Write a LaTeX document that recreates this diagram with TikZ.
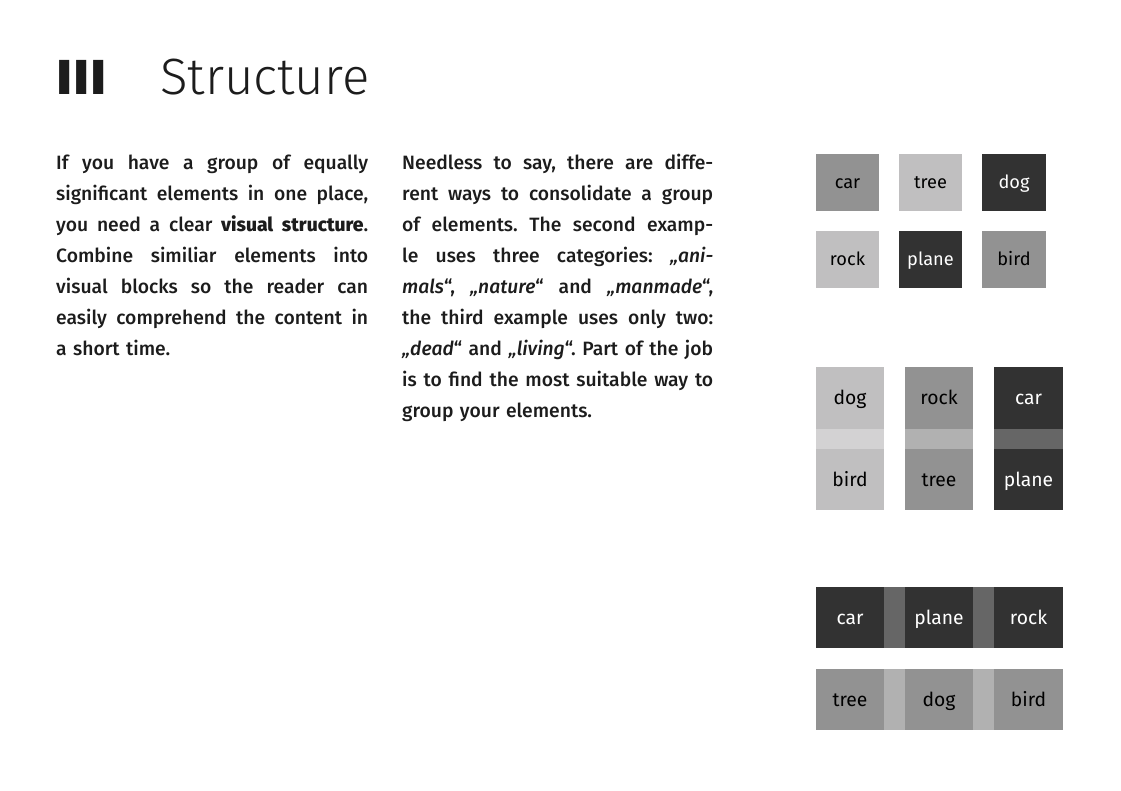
\documentclass[tikz,border=0pt]{standalone}
\usepackage{fontspec}
\setmainfont{Fira Sans}[UprightFont=* Medium, ItalicFont=* Medium Italic, BoldFont=* ExtraBold]
\newfontfamily\titlefont{Fira Sans Light}
\newfontfamily\labelfont{Fira Sans}
\newfontfamily\heavyfont{Fira Sans Black}
\definecolor{cDark}{HTML}{323232}
\definecolor{cMid}{HTML}{929292}
\definecolor{cLight}{HTML}{C0BFC0}
\definecolor{bLight}{HTML}{D3D2D3}
\definecolor{bMid}{HTML}{B1B1B1}
\definecolor{bDark}{HTML}{666666}
\definecolor{ink}{HTML}{1C1C1C}
\newcommand\jlA[1]{\hbox to312pt{\spaceskip=0.24em plus 20em minus 0.06em\relax #1}}
\newcommand\jlB[1]{\hbox to311pt{\spaceskip=0.24em plus 20em minus 0.06em\relax #1}}
\frenchspacing
\begin{document}
\begin{tikzpicture}[x=1pt,y=-1pt,
  box/.style={inner sep=0pt, outer sep=0pt, text height=13pt, text depth=0pt},
  boxA/.style={box, minimum width=63.5pt, minimum height=57pt, font=\labelfont\fontsize{18.2}{20}\selectfont},
  boxB/.style={box, minimum width=68.5pt, minimum height=61.5pt, font=\labelfont\fontsize{19.3}{20}\selectfont},
  dk/.style={fill=cDark, text=white},
  md/.style={fill=cMid, text=black},
  lt/.style={fill=cLight, text=black},
  para/.style={anchor=base west, inner sep=0pt, text=ink, font=\fontsize{19.3}{31}\selectfont}
]
\useasboundingbox[fill=white] (0,0) rectangle (1121,791);

% title
\node[anchor=base west, inner sep=0pt, text=ink, font=\heavyfont\fontsize{49}{50}\selectfont] (num) at (57,94.5) {I\kern3pt I\kern3pt I};
\node[anchor=base west, inner sep=0pt, text=ink, font=\titlefont\fontsize{51}{55}\selectfont] (title) at (160,94.5) {Structure};

% paragraphs
\node[para, text width=312pt] (left) at (56,170) {%
\jlA{If you have a group of equally}\par
\jlA{significant elements in one place,}\par
\jlA{you need a clear \textbf{visual structure}.}\par
\jlA{Combine similiar elements into}\par
\jlA{visual blocks so the reader can}\par
\jlA{easily comprehend the content in}\par
a short time.};

\node[para, text width=311pt] (right) at (402,170) {%
\jlB{Needless to say, there are diffe-}\par
\jlB{rent ways to consolidate a group}\par
\jlB{of elements. The second examp-}\par
\jlB{le uses three categories: \textit{„ani-}}\par
\jlB{\textit{mals}“, \textit{„nature}“ and \textit{„manmade}“,}\par
\jlB{the third example uses only two:}\par
\jlB{\textit{„dead}“ and \textit{„living}“. Part of the job}\par
\jlB{is to find the most suitable way to}\par
group your elements.};

% group 1
\node[boxA, md] (a1) at (847.5,182.5) {car};
\node[boxA, lt] (a2) at (930.5,182.5) {tree};
\node[boxA, dk] (a3) at (1014,182.5) {dog};
\node[boxA, lt] (a4) at (847.5,259.5) {rock};
\node[boxA, dk] (a5) at (930.5,259.5) {plane};
\node[boxA, md] (a6) at (1014,259.5) {bird};

% group 2
\node[boxB, lt] (b1) at (850,398) {dog};
\node[boxB, lt] (b2) at (850,479.5) {bird};
\node[boxB, md] (b3) at (939,398) {rock};
\node[boxB, md] (b4) at (939,479.5) {tree};
\node[boxB, dk] (b5) at (1028.5,398) {car};
\node[boxB, dk] (b6) at (1028.5,479.5) {plane};
\fill[bLight] (b1.south west) rectangle (b2.north east);
\fill[bMid] (b3.south west) rectangle (b4.north east);
\fill[bDark] (b5.south west) rectangle (b6.north east);

% group 3
\node[boxB, dk] (c1) at (850,617.5) {car};
\node[boxB, dk] (c2) at (939,617.5) {plane};
\node[boxB, dk] (c3) at (1028.5,617.5) {rock};
\node[boxB, md] (c4) at (850,699.5) {tree};
\node[boxB, md] (c5) at (939,699.5) {dog};
\node[boxB, md] (c6) at (1028.5,699.5) {bird};
\fill[bDark] (c1.north east) rectangle (c2.south west);
\fill[bDark] (c2.north east) rectangle (c3.south west);
\fill[bMid] (c4.north east) rectangle (c5.south west);
\fill[bMid] (c5.north east) rectangle (c6.south west);
\end{tikzpicture}
\end{document}
